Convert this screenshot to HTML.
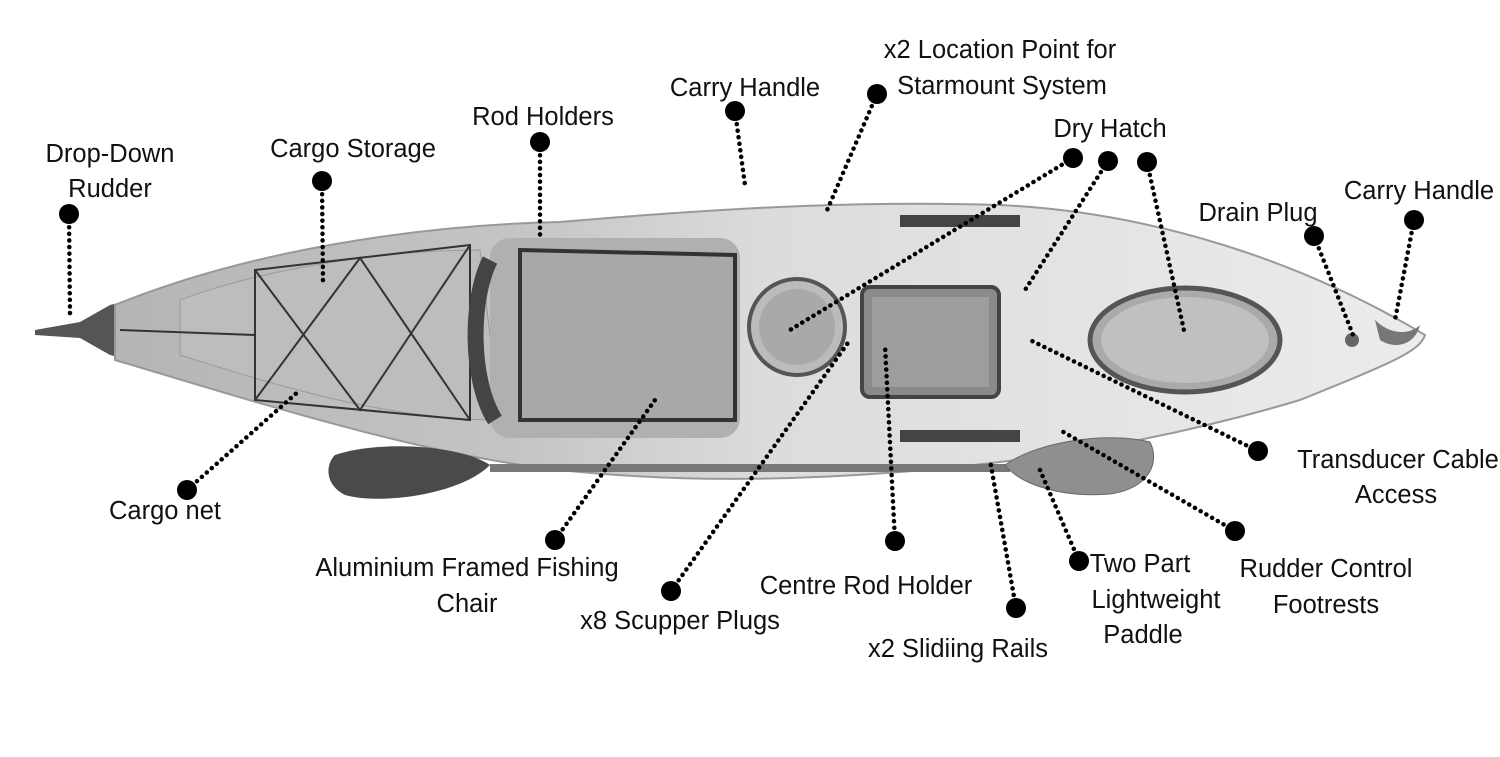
<!DOCTYPE html>
<html><head><meta charset="utf-8"><style>
html,body{margin:0;padding:0;background:#fff;}
svg{display:block;}
text{font-family:"Liberation Sans",Arial,sans-serif;font-size:25.5px;fill:#111;text-anchor:middle;}
.d{stroke:#000;stroke-width:4.5;stroke-linecap:round;stroke-dasharray:0.1 6.5;fill:none;}
</style></head><body>
<svg width="1500" height="757" viewBox="0 0 1500 757">
<defs>
<linearGradient id="h" x1="0" y1="0" x2="1" y2="0">
<stop offset="0" stop-color="#b5b5b5"/><stop offset="0.3" stop-color="#c4c4c4"/><stop offset="0.5" stop-color="#dcdcdc"/><stop offset="0.75" stop-color="#e4e4e4"/><stop offset="1" stop-color="#ececec"/>
</linearGradient>
</defs>
<path d="M35,330 L80,322 L110,305 L130,300 L130,360 L110,355 L80,338 L35,335Z" fill="#555"/>
<path d="M115,305 C250,250 420,225 560,222 C700,210 850,200 1000,205 C1150,212 1300,260 1425,335 C1420,350 1400,360 1300,400 C1200,430 1100,450 1000,462 C850,480 700,485 560,470 C420,455 250,400 115,360 Z" fill="url(#h)" stroke="#999" stroke-width="2"/>
<path d="M180,300 C260,270 380,250 480,250 L500,420 C380,420 260,380 180,355Z" fill="#bdbdbd" stroke="#999"/>
<g stroke="#333" stroke-width="2" fill="none">
<path d="M255,270 L470,245 L470,420 L255,400 Z"/>
<path d="M255,270 L360,410 L470,245 M255,400 L360,258 L470,420"/>
<path d="M120,330 L255,335"/>
</g>
<rect x="490" y="238" width="250" height="200" rx="20" fill="#b0b0b0"/>
<path d="M520,250 L735,255 L735,420 L520,420 Z" fill="#a8a8a8" stroke="#333" stroke-width="4"/>
<path d="M490,260 C470,300 470,380 495,420" stroke="#444" stroke-width="16" fill="none"/>
<circle cx="797" cy="327" r="48" fill="#bbb" stroke="#555" stroke-width="4"/>
<circle cx="797" cy="327" r="38" fill="#a9a9a9"/>
<rect x="862" y="287" width="137" height="110" rx="8" fill="#8a8a8a" stroke="#444" stroke-width="4"/>
<rect x="872" y="297" width="117" height="90" fill="#9d9d9d"/>
<ellipse cx="1185" cy="340" rx="95" ry="52" fill="#aaa" stroke="#555" stroke-width="5"/>
<ellipse cx="1185" cy="340" rx="84" ry="43" fill="#c0c0c0"/>
<rect x="900" y="215" width="120" height="12" fill="#444"/>
<rect x="900" y="430" width="120" height="12" fill="#444"/>
<path d="M335,455 C380,440 460,445 490,465 C460,495 380,505 345,495 C325,485 325,465 335,455Z" fill="#4a4a4a"/>
<rect x="490" y="464" width="520" height="8" fill="#777"/>
<path d="M1005,465 C1040,440 1110,432 1150,442 C1160,462 1150,488 1110,494 C1060,498 1020,484 1005,465Z" fill="#8f8f8f" stroke="#666"/>
<path d="M1375,320 C1390,335 1410,335 1420,325 C1415,345 1395,350 1380,340Z" fill="#777"/>
<circle cx="1352" cy="340" r="7" fill="#666"/>

<g class="d">
<path d="M69,214 L70,315"/><path d="M322,181 L323,285"/><path d="M540,142 L540,240"/>
<path d="M735,111 L745,185"/><path d="M877,94 L825,215"/>
<path d="M1073,158 L790,330"/><path d="M1108,161 L1025,290"/><path d="M1147,162 L1185,335"/>
<path d="M1314,236 L1355,340"/><path d="M1414,220 L1395,320"/>
<path d="M187,490 L300,390"/><path d="M555,540 L655,400"/><path d="M671,591 L850,340"/>
<path d="M895,541 L885,345"/><path d="M1016,608 L990,460"/><path d="M1079,561 L1040,470"/>
<path d="M1235,531 L1060,430"/><path d="M1258,451 L1030,340"/>
</g>
<g fill="#000">
<circle cx="69" cy="214" r="10"/><circle cx="322" cy="181" r="10"/><circle cx="540" cy="142" r="10"/>
<circle cx="735" cy="111" r="10"/><circle cx="877" cy="94" r="10"/><circle cx="1073" cy="158" r="10"/>
<circle cx="1108" cy="161" r="10"/><circle cx="1147" cy="162" r="10"/><circle cx="1314" cy="236" r="10"/>
<circle cx="1414" cy="220" r="10"/><circle cx="187" cy="490" r="10"/><circle cx="555" cy="540" r="10"/>
<circle cx="671" cy="591" r="10"/><circle cx="895" cy="541" r="10"/><circle cx="1016" cy="608" r="10"/>
<circle cx="1079" cy="561" r="10"/><circle cx="1235" cy="531" r="10"/><circle cx="1258" cy="451" r="10"/>
</g>
<text x="110" y="162">Drop-Down</text><text x="110" y="197">Rudder</text>
<text x="353" y="157">Cargo Storage</text>
<text x="543" y="125">Rod Holders</text>
<text x="745" y="96">Carry Handle</text>
<text x="1000" y="58">x2 Location Point for</text><text x="1002" y="94">Starmount System</text>
<text x="1110" y="137">Dry Hatch</text>
<text x="1258" y="221">Drain Plug</text>
<text x="1419" y="199">Carry Handle</text>
<text x="165" y="519">Cargo net</text>
<text x="467" y="576">Aluminium Framed Fishing</text><text x="467" y="612">Chair</text>
<text x="680" y="629">x8 Scupper Plugs</text>
<text x="866" y="594">Centre Rod Holder</text>
<text x="958" y="657">x2 Slidiing Rails</text>
<text x="1140" y="572">Two Part</text><text x="1156" y="608">Lightweight</text><text x="1143" y="643">Paddle</text>
<text x="1326" y="577">Rudder Control</text><text x="1326" y="613">Footrests</text>
<text x="1398" y="468">Transducer Cable</text><text x="1396" y="503">Access</text>
</svg>
</body></html>
